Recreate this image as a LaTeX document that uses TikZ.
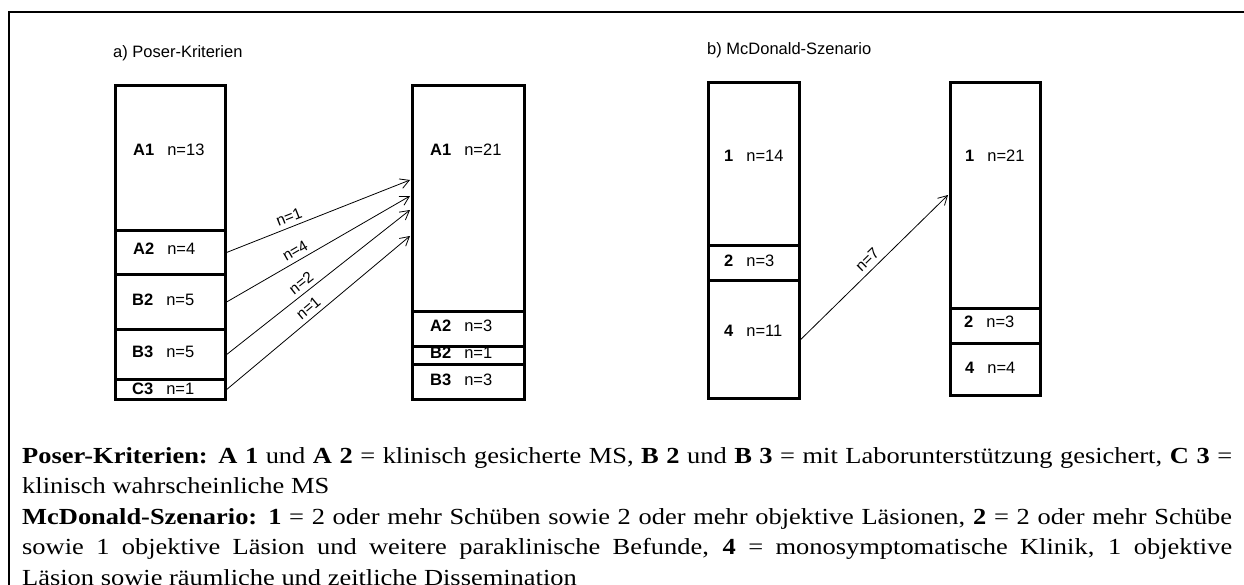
\documentclass[tikz,border=0pt]{standalone}
\usepackage{fontspec}
\setmainfont{Liberation Serif}[FakeStretch=1.15]
\setsansfont{Liberation Sans}
\usetikzlibrary{arrows.meta,calc}
\tikzset{
  segbox/.style={draw, line width=2.8pt, rectangle, anchor=north west, inner sep=0pt},
  lab/.style={anchor=west, inner sep=0pt, font=\sffamily\fontsize{16.5}{19}\selectfont},
  ttl/.style={anchor=west, inner sep=0pt, font=\sffamily\fontsize{16.5}{19}\selectfont},
  conn/.style={line width=0.8pt, -{Straight Barb[length=9pt,width=10pt,line width=0.8pt]}},
  alab/.style={sloped, above, inner sep=4.5pt, font=\sffamily\fontsize{15.5}{18}\selectfont},
  frame/.style={line width=2.6pt}
}
\newcommand{\seglab}[2]{\textbf{#1}\hspace{13pt}#2}
\begin{document}
\begin{tikzpicture}[x=1pt,y=-1pt]
\useasboundingbox (0,0) rectangle (1244,585);
\fill[white] (0,0) rectangle (1244,585);
% frame
\draw[frame] (9,600) -- (9,12) -- (1260,12);
% titles
\node[ttl] (ta) at (113,53) {a) Poser-Kriterien};
\node[ttl] (tb) at (707,50) {b) McDonald-Szenario};
% a) left column
\node[segbox, minimum width=110pt, minimum height=145pt] (la1) at (114,84) {};
\node[segbox, minimum width=110pt, minimum height=44pt] (la2) at (114,229) {};
\node[segbox, minimum width=110pt, minimum height=55pt] (lb2) at (114,273) {};
\node[segbox, minimum width=110pt, minimum height=50pt] (lb3) at (114,328) {};
\node[segbox, minimum width=110pt, minimum height=20pt] (lc3) at (114,378) {};
\node[lab] (tla1) at (133,150) {\seglab{A1}{n=13}};
\node[lab] (tla2) at (133,249) {\seglab{A2}{n=4}};
\node[lab] (tlb2) at (132,300) {\seglab{B2}{n=5}};
\node[lab] (tlb3) at (132,352) {\seglab{B3}{n=5}};
\node[lab] (tlc3) at (132,389) {\seglab{C3}{n=1}};
% a) right column
\node[segbox, minimum width=112pt, minimum height=226pt] (ra1) at (411,84) {};
\node[segbox, minimum width=112pt, minimum height=35pt] (ra2) at (411,310) {};
\node[segbox, minimum width=112pt, minimum height=18pt] (rb2) at (411,345) {};
\node[segbox, minimum width=112pt, minimum height=35pt] (rb3) at (411,363) {};
\node[lab] (tra1) at (430,150) {\seglab{A1}{n=21}};
\node[lab] (tra2) at (430,326) {\seglab{A2}{n=3}};
\node[lab] (trb2) at (430,353) {\seglab{B2}{n=1}};
\node[lab] (trb3) at (430,380) {\seglab{B3}{n=3}};
% a) arrows
\draw[conn] (la2.east) -- node[alab, pos=0.36] {n=1} ($(ra1.north west)+(-1,96)$);
\draw[conn] (lb2.east) -- node[alab, pos=0.40] {n=4} ($(ra1.north west)+(-1,112)$);
\draw[conn] (lb3.east) -- node[alab, pos=0.44] {n=2} ($(ra1.north west)+(-1,126)$);
\draw[conn] (lc3.east) -- node[alab, pos=0.48] {n=1} ($(ra1.north west)+(-1,152)$);
% b) left column
\node[segbox, minimum width=91pt, minimum height=163pt] (l1) at (707,81) {};
\node[segbox, minimum width=91pt, minimum height=35pt] (l2) at (707,244) {};
\node[segbox, minimum width=91pt, minimum height=118pt] (l4) at (707,279) {};
\node[lab] (tl1) at (724,156) {\seglab{1}{n=14}};
\node[lab] (tl2) at (724,261) {\seglab{2}{n=3}};
\node[lab] (tl4) at (724,331) {\seglab{4}{n=11}};
% b) right column
\node[segbox, minimum width=90pt, minimum height=226pt] (r1) at (949,81) {};
\node[segbox, minimum width=90pt, minimum height=35pt] (r2) at (949,307) {};
\node[segbox, minimum width=90pt, minimum height=52pt] (r4) at (949,342) {};
\node[lab] (tr1) at (965,156) {\seglab{1}{n=21}};
\node[lab] (tr2) at (964,322) {\seglab{2}{n=3}};
\node[lab] (tr4) at (965,368) {\seglab{4}{n=4}};
% b) arrow
\draw[conn] (l4.east) -- node[alab, pos=0.5] {n=7} ($(r1.north west)+(-1,114)$);
% legend
\node[anchor=north west, inner sep=0pt, text width=1210pt, align=justify,
      font=\fontsize{23}{30.5}\selectfont] (legend) at (22,447) {%
\tolerance=10000\hbadness=10000\hfuzz=20pt\parfillskip=0pt plus 1fil
\textbf{Poser-Kriterien: A 1} und \textbf{A 2} = klinisch gesicherte MS, \textbf{B 2} und \textbf{B 3} = mit Laborunterstützung gesichert, \textbf{C 3} =\linebreak
klinisch wahrscheinliche MS\\
\textbf{McDonald-Szenario: 1} = 2 oder mehr Schüben sowie 2 oder mehr objektive Läsionen, \textbf{2} = 2 oder mehr Schübe\linebreak
sowie 1 objektive Läsion und weitere paraklinische Befunde, \textbf{4} = monosymptomatische Klinik, 1 objektive\linebreak
Läsion sowie räumliche und zeitliche Dissemination};
\end{tikzpicture}
\end{document}
